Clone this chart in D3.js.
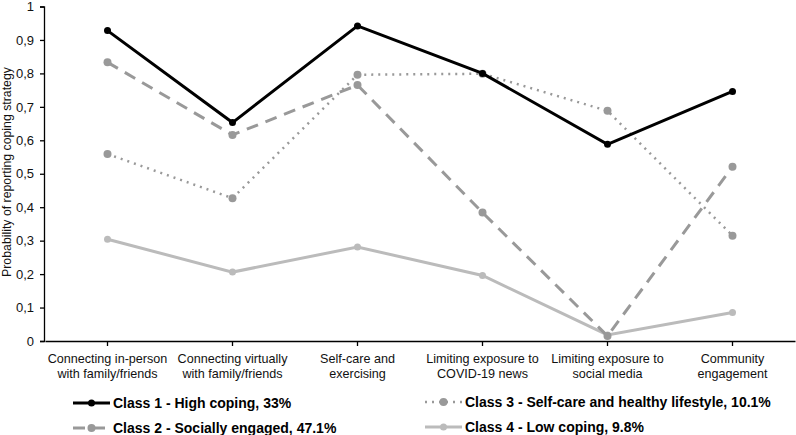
<!DOCTYPE html>
<html>
<head>
<meta charset="utf-8">
<script src="https://cdn.jsdelivr.net/npm/d3@7"></script>
<style>
  body { margin: 0; background: #fff; }
  svg { font-family: "Liberation Sans", Arial, sans-serif; }
</style>
</head>
<body>
<div class="chart"></div>
<script>
// categorias del eje x (dos lineas cada una)
var categorias = [
    ["Connecting in-person", "with family/friends"],
    ["Connecting virtually", "with family/friends"],
    ["Self-care and", "exercising"],
    ["Limiting exposure to", "COVID-19 news"],
    ["Limiting exposure to", "social media"],
    ["Community", "engagement"]
];

var clase1 = [0.928, 0.653, 0.942, 0.800, 0.588, 0.746];
var clase2 = [0.833, 0.616, 0.765, 0.384, 0.015, 0.521];
var clase3 = [0.559, 0.427, 0.796, 0.799, 0.688, 0.315];
var clase4 = [0.304, 0.206, 0.281, 0.196, 0.018, 0.085];

var nombresSeries = [
    "Class 1 - High coping, 33%",
    "Class 2 - Socially engaged, 47.1%",
    "Class 3 - Self-care and healthy lifestyle, 10.1%",
    "Class 4 - Low coping, 9.8%"
];

var yTicks = [0, 0.1, 0.2, 0.3, 0.4, 0.5, 0.6, 0.7, 0.8, 0.9, 1];

var width = 796, height = 435;

var series = [
    { nombre: nombresSeries[0], valores: clase1, color: "#000", dash: null, ancho: 3, r: 3.5 },
    { nombre: nombresSeries[1], valores: clase2, color: "#999", dash: "12,8", ancho: 3, r: 4 },
    { nombre: nombresSeries[2], valores: clase3, color: "#999", dash: "2,5", ancho: 2.5, r: 4 },
    { nombre: nombresSeries[3], valores: clase4, color: "#bbb", dash: null, ancho: 3, r: 3.5 }
];

var svg = d3.select(".chart").append("svg")
    .attr("width", width)
    .attr("height", height);

var x = d3.scaleBand()
    .domain(d3.range(categorias.length))
    .range([45, 795]);

var y = d3.scaleLinear()
    .domain([0, 1])
    .range([341, 6.5]);

// eje y
var ejeY = svg.append("g")
    .attr("transform", "translate(44,0)")
    .call(d3.axisLeft(y).tickValues(yTicks).tickSize(4).tickPadding(6)
        .tickFormat(function(d) { return d === 0 || d === 1 ? String(d) : d3.format(".1f")(d).replace(".", ","); }));
ejeY.select(".domain").attr("stroke", "#000").attr("stroke-width", 1.3);
ejeY.selectAll(".tick line").attr("stroke", "#000").attr("stroke-width", 1.3);
ejeY.selectAll("text").attr("font-size", 13).attr("fill", "#111");

// eje x
var ejeX = svg.append("g")
    .attr("transform", "translate(0,341)")
    .call(d3.axisBottom(x).tickSize(5).tickSizeOuter(0).tickFormat(""));
ejeX.select(".domain").attr("stroke", "#000").attr("stroke-width", 1.3);
ejeX.selectAll(".tick line").attr("stroke", "#000").attr("stroke-width", 1.3);

ejeX.selectAll(".tick").append("text")
    .attr("fill", "#111")
    .attr("font-size", 12.6)
    .attr("text-anchor", "middle")
    .selectAll("tspan")
    .data(function(d) { return categorias[d]; })
    .enter().append("tspan")
    .attr("x", 0)
    .attr("y", function(d, i) { return 22 + i * 15; })
    .text(function(d) { return d; });

// titulo eje y
svg.append("text")
    .attr("transform", "translate(11,172) rotate(-90)")
    .attr("text-anchor", "middle")
    .attr("font-size", 12.3)
    .attr("fill", "#111")
    .text("Probability of reporting coping strategy");

// lineas (de abajo hacia arriba para que la clase 1 quede encima)
var linea = d3.line()
    .x(function(d, i) { return x(i) + x.bandwidth() / 2; })
    .y(function(d) { return y(d); });

var orden = [3, 2, 1, 0];
orden.forEach(function(k) {
    var s = series[k];
    svg.append("path")
        .datum(s.valores)
        .attr("fill", "none")
        .attr("stroke", s.color)
        .attr("stroke-width", s.ancho)
        .attr("stroke-dasharray", s.dash)
        .attr("d", linea);
    svg.selectAll(".punto" + k)
        .data(s.valores)
        .enter().append("circle")
        .attr("class", "punto" + k)
        .attr("cx", function(d, i) { return x(i) + x.bandwidth() / 2; })
        .attr("cy", function(d) { return y(d); })
        .attr("r", s.r)
        .attr("fill", s.color);
});

// leyenda
var posLeyenda = [
    { x: 73, y: 403 },
    { x: 73, y: 428 },
    { x: 425, y: 402 },
    { x: 425, y: 427 }
];

var leyenda = svg.selectAll(".leyenda")
    .data(series)
    .enter().append("g")
    .attr("class", "leyenda")
    .attr("transform", function(d, i) { return "translate(" + posLeyenda[i].x + "," + posLeyenda[i].y + ")"; });

leyenda.append("line")
    .attr("x1", 0).attr("x2", 37)
    .attr("y1", 0).attr("y2", 0)
    .attr("stroke", function(d) { return d.color; })
    .attr("stroke-width", function(d) { return d.ancho; })
    .attr("stroke-dasharray", function(d) { return d.dash; });

leyenda.append("circle")
    .attr("cx", 18.5).attr("cy", 0)
    .attr("r", function(d) { return d.r; })
    .attr("fill", function(d) { return d.color; });

leyenda.append("text")
    .attr("x", 40)
    .attr("y", 5)
    .attr("font-size", 14)
    .attr("font-weight", "bold")
    .attr("fill", "#000")
    .text(function(d) { return d.nombre; });
</script>
</body>
</html>
